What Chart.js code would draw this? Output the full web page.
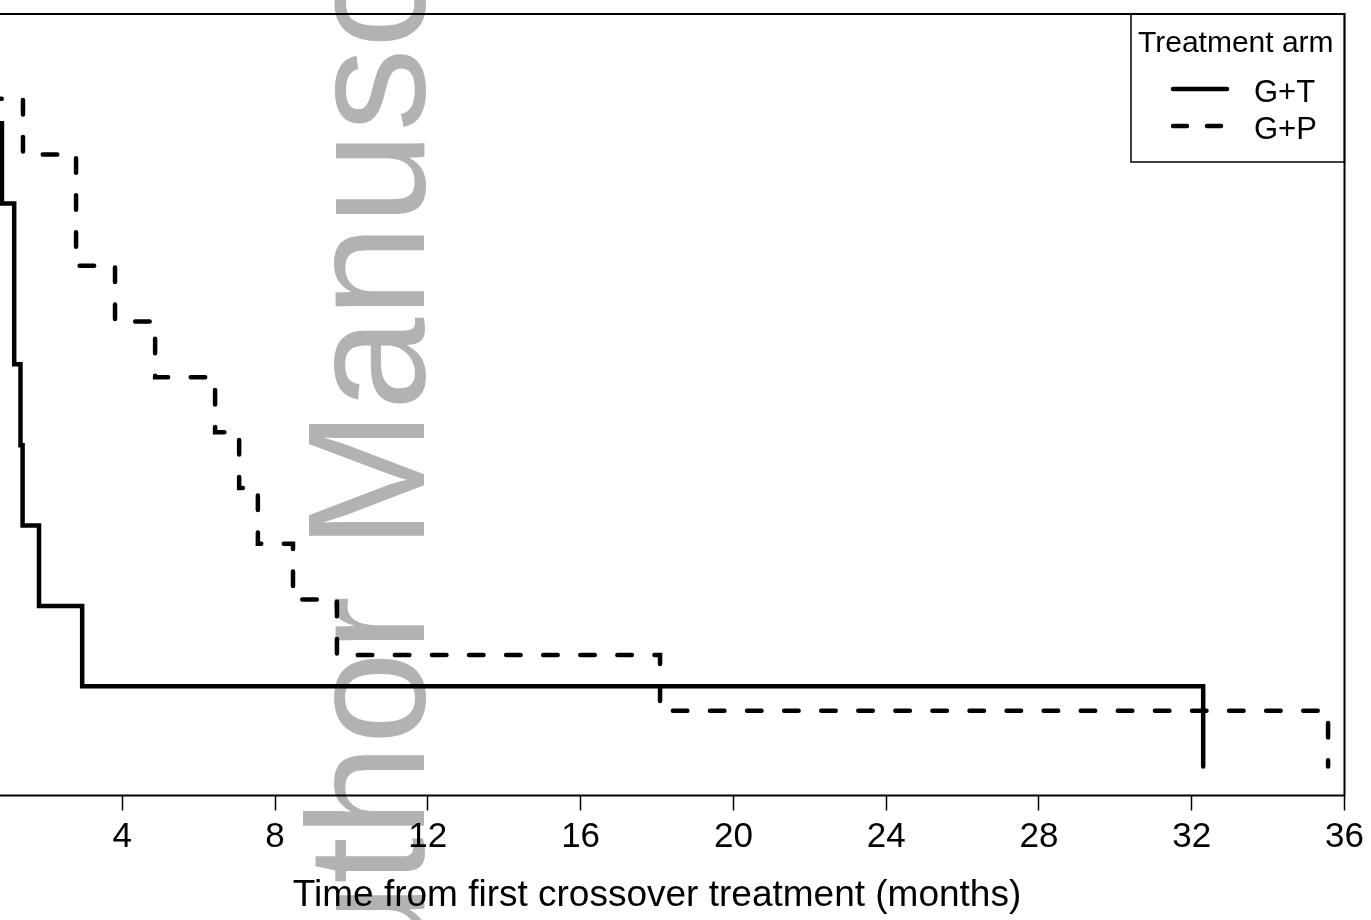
<!DOCTYPE html>
<html>
<head>
<meta charset="utf-8">
<script src="https://cdn.jsdelivr.net/npm/chart.js@4/dist/chart.umd.min.js"></script>
<style>
  html, body { margin: 0; padding: 0; background: #fff; overflow: hidden; }
  /* the source figure is cropped on the left, so the canvas starts off-screen */
  #wrap { position: absolute; left: -70px; top: 0; width: 1441px; height: 920px; }
</style>
</head>
<body>
<div id="wrap"><canvas id="kmChart"></canvas></div>
<script>
const FONT = '"Liberation Sans", Arial, sans-serif';

const seriesNames = ['G+T', 'G+P'];
const gtTimes = [0, 0.4, 0.85, 1.17, 1.335, 1.39, 1.82, 2.95, 32.3];
const gtSurv = [1, 0.889, 0.778, 0.556, 0.444, 0.333, 0.222, 0.111, 0];
const gpTimes = [0, 0.4, 1.4, 2.79, 3.81, 4.86, 6.43, 7.06, 7.55, 8.47, 9.62, 18.08, 35.57];
const gpSurv = [1, 0.923, 0.846, 0.692, 0.615, 0.538, 0.462, 0.385, 0.308, 0.231, 0.154, 0.077, 0];
const xTicks = [0, 4, 8, 12, 16, 20, 24, 28, 32, 36];
const xTitle = 'Time from first crossover treatment (months)';
const legendTitle = 'Treatment arm';
const watermark = 'Author Manuscript';

function toPoints(times, surv) {
  return times.map((t, i) => ({ x: t, y: surv[i] }));
}

// grey rotated watermark, painted before anything else
const watermarkPlugin = {
  id: 'watermark',
  beforeDraw(chart) {
    const { ctx, chartArea } = chart;
    ctx.save();
    ctx.translate(chartArea.left + 454.5, 1088);
    ctx.rotate(-Math.PI / 2);
    ctx.font = `167px ${FONT}`;
    ctx.fillStyle = '#b2b2b2';
    ctx.textBaseline = 'alphabetic';
    ctx.fillText(watermark, 0, 0);
    ctx.restore();
  },
};

const framePlugin = {
  id: 'frameAndLegend',
  afterDraw(chart) {
    const { ctx, chartArea: a } = chart;
    ctx.save();
    ctx.strokeStyle = '#000';
    ctx.lineWidth = 2;
    ctx.strokeRect(a.left, a.top, a.right - a.left, a.bottom - a.top);

    // legend box in the top right corner
    const bx = a.right - 213.5;
    const by = a.top;
    ctx.lineWidth = 1.5;
    ctx.strokeRect(bx, by, a.right - bx, 148);
    ctx.fillStyle = '#000';
    ctx.font = `30px ${FONT}`;
    ctx.textBaseline = 'alphabetic';
    ctx.fillText(legendTitle, bx + 7, by + 38);

    ctx.font = `31px ${FONT}`;
    chart.data.datasets.forEach((ds, i) => {
      const y = by + 75 + i * 37;
      ctx.beginPath();
      ctx.lineWidth = 4.5;
      ctx.lineCap = 'round';
      ctx.setLineDash(ds.borderDash ? [14, 20] : []);
      ctx.moveTo(bx + 42, y);
      ctx.lineTo(bx + 96, y);
      ctx.stroke();
      ctx.setLineDash([]);
      ctx.fillText(ds.label, bx + 123, y + 13);
    });
    ctx.restore();
  },
};

new Chart(document.getElementById('kmChart'), {
  type: 'line',
  data: {
    datasets: [
      {
        label: seriesNames[0],
        data: toPoints(gtTimes, gtSurv),
        stepped: 'before',
        borderColor: '#000',
        borderWidth: 4.5,
        borderCapStyle: 'round',
        pointRadius: 0,
        fill: false,
      },
      {
        label: seriesNames[1],
        data: toPoints(gpTimes, gpSurv),
        stepped: 'before',
        borderColor: '#000',
        borderWidth: 4.5,
        borderDash: [14.5, 22.58],
        borderDashOffset: 0.7,
        borderCapStyle: 'round',
        pointRadius: 0,
        fill: false,
      },
    ],
  },
  options: {
    responsive: true,
    maintainAspectRatio: false,
    animation: false,
    layout: { padding: { left: 39.5, right: 26.5, top: 14, bottom: 0 } },
    plugins: {
      legend: { display: false },
      tooltip: { enabled: false },
    },
    scales: {
      x: {
        type: 'linear',
        min: 0,
        max: 36,
        afterBuildTicks: (axis) => {
          axis.ticks = xTicks.map((v) => ({ value: v }));
        },
        grid: {
          display: true,
          drawOnChartArea: false,
          drawTicks: true,
          tickLength: 15,
          tickWidth: 1.5,
          tickColor: '#000',
        },
        border: { display: false },
        ticks: {
          color: '#000',
          font: { family: FONT, size: 35 },
          padding: 5.5,
          maxRotation: 0,
          autoSkip: false,
        },
        title: {
          display: true,
          text: xTitle,
          color: '#000',
          font: { family: FONT, size: 37 },
          padding: { top: 10.3, bottom: 1.8 },
        },
      },
      y: {
        type: 'linear',
        display: false,
        min: -0.04,
        max: 1.04,
      },
    },
  },
  plugins: [watermarkPlugin, framePlugin],
});
</script>
</body>
</html>
